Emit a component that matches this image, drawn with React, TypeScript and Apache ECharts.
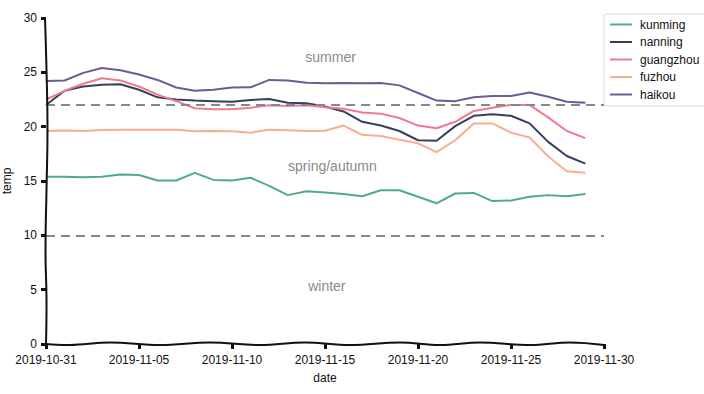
import React, { useEffect, useRef } from "react";
import * as echarts from "echarts";

const tickLabels = ["2019-10-31", "2019-11-05", "2019-11-10", "2019-11-15", "2019-11-20", "2019-11-25", "2019-11-30"];
const cities = ["kunming", "nanning", "guangzhou", "fuzhou", "haikou"];
const colors = ["#52ab88", "#34405e", "#f07a92", "#f9ad8e", "#6b5b98"];

const kunming = [15.4, 15.4, 15.35, 15.4, 15.6, 15.55, 15.05, 15.05, 15.75, 15.1, 15.05, 15.3, 14.55, 13.7, 14.05, 13.95, 13.8, 13.6, 14.15, 14.15, 13.55, 12.95, 13.85, 13.9, 13.15, 13.2, 13.55, 13.7, 13.6, 13.8];
const nanning = [22.0, 23.3, 23.7, 23.85, 23.9, 23.4, 22.7, 22.5, 22.4, 22.35, 22.3, 22.45, 22.55, 22.2, 22.15, 21.85, 21.4, 20.45, 20.1, 19.6, 18.75, 18.7, 20.05, 21.0, 21.15, 21.0, 20.3, 18.6, 17.3, 16.6];
const guangzhou = [22.5, 23.3, 23.95, 24.45, 24.25, 23.7, 22.95, 22.35, 21.7, 21.6, 21.6, 21.75, 21.98, 21.9, 21.98, 21.78, 21.65, 21.3, 21.2, 20.8, 20.1, 19.85, 20.45, 21.45, 21.75, 22.0, 22.0, 20.85, 19.6, 18.95];
const fuzhou = [19.6, 19.65, 19.6, 19.7, 19.72, 19.72, 19.72, 19.72, 19.57, 19.6, 19.57, 19.45, 19.72, 19.66, 19.6, 19.63, 20.1, 19.25, 19.15, 18.8, 18.47, 17.65, 18.75, 20.3, 20.3, 19.45, 19.0, 17.25, 15.9, 15.75];
const haikou = [24.2, 24.25, 24.95, 25.4, 25.2, 24.8, 24.3, 23.6, 23.3, 23.4, 23.6, 23.62, 24.3, 24.25, 24.05, 24.0, 24.02, 24.0, 24.02, 23.8, 23.1, 22.4, 22.35, 22.7, 22.82, 22.82, 23.15, 22.75, 22.3, 22.2];
const seriesValues = [kunming, nanning, guangzhou, fuzhou, haikou];

const thresholds = [22, 10];
const seasonLabels = [
  { name: "summer", x: 15.3, y: 26.4 },
  { name: "spring/autumn", x: 15.4, y: 16.4 },
  { name: "winter", x: 15.1, y: 5.3 },
];

const FONT = "'Liberation Sans', Arial, sans-serif";

export default function App() {
  const ref = useRef<HTMLDivElement>(null);
  useEffect(() => {
    if (!ref.current) return;
    const chart = echarts.init(ref.current, undefined, { renderer: "svg" });
    const series: any[] = cities.map((c, i) => ({
      name: c,
      type: "line",
      data: seriesValues[i].map((v, d) => [d, v]),
      showSymbol: false,
      symbol: "none",
      lineStyle: { width: 2, color: colors[i] },
      itemStyle: { color: colors[i] },
      z: 3,
    }));
    series.push({
      name: "_marks",
      type: "line",
      data: [],
      markLine: {
        silent: true,
        symbol: "none",
        label: { show: false },
        lineStyle: { color: "#888", type: [9, 6], width: 2 },
        data: thresholds.map((t) => ({ yAxis: t })),
      },
      markPoint: {
        silent: true,
        symbol: "circle",
        symbolSize: 0,
        label: { show: true, position: "inside", color: "#8a8a8a", fontSize: 14, fontFamily: FONT, formatter: (p: any) => p.name },
        data: seasonLabels.map((s) => ({ name: s.name, coord: [s.x, s.y] })),
      },
    });
    const L = 46, R = 604, T = 18, B = 344;
    const option: any = {
      animation: false,
      textStyle: { fontFamily: FONT },
      grid: { left: L, right: 704 - R, top: T, bottom: 394 - B, containLabel: false, outerBoundsMode: "none" },
      legend: {
        data: cities,
        orient: "vertical",
        left: 604,
        top: 14,
        padding: [4, 6, 5, 6],
        borderColor: "#d8d8d8",
        borderWidth: 1,
        borderRadius: 3,
        icon: "rect",
        itemWidth: 22,
        itemHeight: 2,
        itemGap: 4.5,
        textStyle: { fontSize: 12, color: "#111", fontFamily: FONT, lineHeight: 13, padding: [0, 0, 0, 3] },
      },
      xAxis: {
        type: "value",
        min: 0,
        max: 30,
        interval: 5,
        name: "date",
        nameLocation: "middle",
        nameGap: 28,
        nameTextStyle: { fontSize: 12, color: "#111" },
        axisLine: { show: false },
        axisTick: { show: true, length: 5, lineStyle: { color: "#111", width: 3 } },
        axisLabel: { fontSize: 12, color: "#111", margin: 10, formatter: (v: number) => tickLabels[Math.round(v / 5)] },
        splitLine: { show: false },
      },
      yAxis: {
        type: "value",
        min: 0,
        max: 30,
        interval: 5,
        name: "temp",
        nameLocation: "middle",
        nameGap: 30,
        nameTextStyle: { fontSize: 12, color: "#111" },
        axisLine: { show: false },
        axisTick: { show: true, length: 5, lineStyle: { color: "#111", width: 3 } },
        axisLabel: { fontSize: 12, color: "#111", margin: 9 },
        splitLine: { show: false },
      },
      graphic: [
        {
          type: "polyline",
          shape: {
            points: [[45, T], [46.5, 70], [47.5, 130], [46.5, 190], [45.5, 250], [46.5, 300], [46, B]],
            smooth: 0.5,
          },
          style: { stroke: "#111", lineWidth: 2, fill: null },
          z: 10,
        },
        {
          type: "polyline",
          shape: {
            points: [[L, B], [70, 345], [110, 342.5], [160, 345], [210, 342.5], [260, 345], [305, 342.5], [350, 345], [400, 342.5], [440, 345], [480, 342.5], [530, 345], [570, 342.5], [R, 345]],
            smooth: 0.4,
          },
          style: { stroke: "#111", lineWidth: 2, fill: null },
          z: 10,
        },
      ],
      series,
    };
    chart.setOption(option);
    return () => chart.dispose();
  }, []);
  return <div ref={ref} style={{ width: 704, height: 394, position: "absolute", left: 0, top: 0 }} />;
}
